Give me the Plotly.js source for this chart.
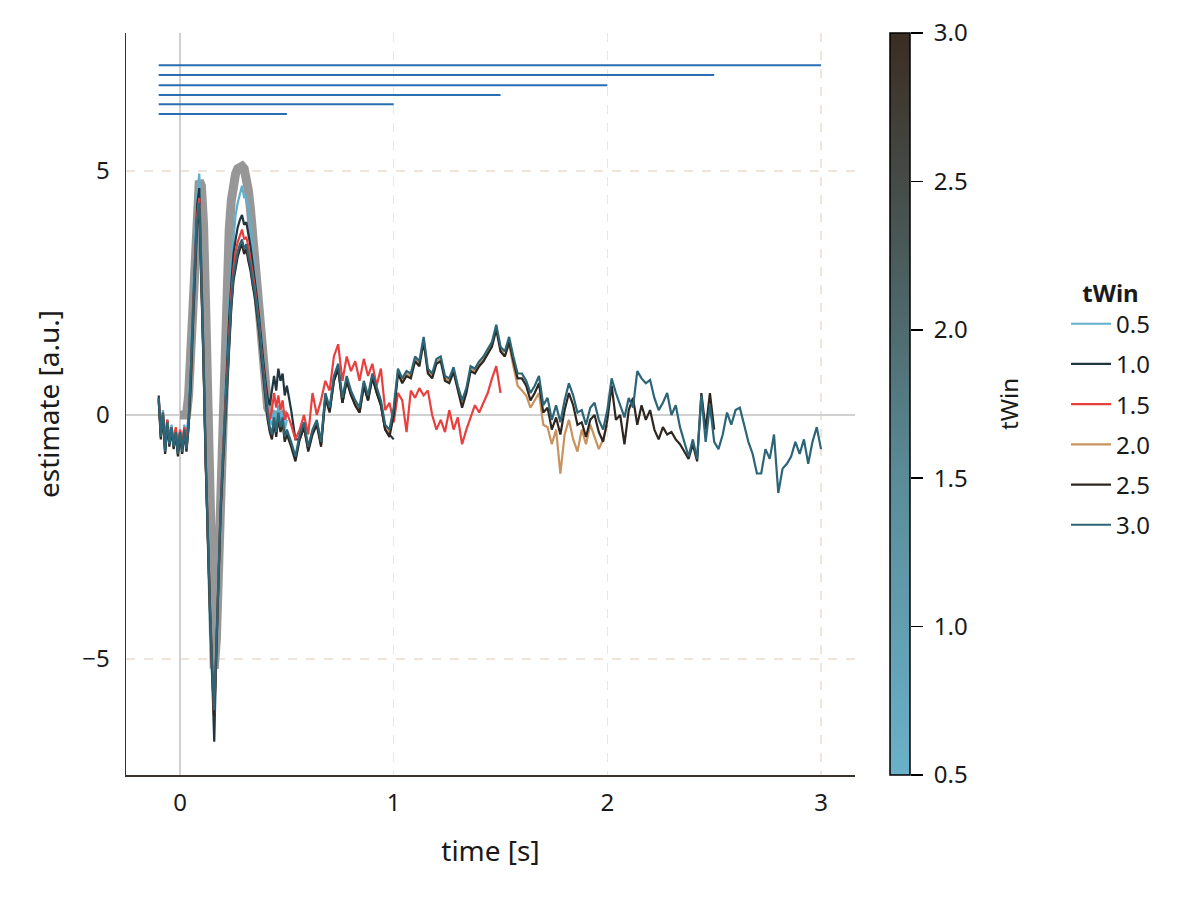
<!DOCTYPE html>
<html>
<head>
<meta charset="utf-8">
<script src="https://cdn.plot.ly/plotly-3.0.1.min.js"></script>
<style>
  body { margin: 0; background: #fff; }
  #plotId { width: 1200px; height: 900px; }
</style>
</head>
<body>
<div id="plotId"></div>
<script>
// window lengths (s) of the six estimates
const tWin = [0.5, 1.0, 1.5, 2.0, 2.5, 3.0];
const lineColors = ['#5fafcd', '#1f3640', '#e8403e', '#c8935f', '#2e2620', '#2b6577'];

// height of the horizontal bars that mark each window at the top
const windowLevel = [6.17, 6.37, 6.56, 6.76, 6.97, 7.17];

// ground truth, from 0.00 to 0.50 every 0.01 s
const truth = [
    0, 0, 0, 0.0, 0.4, 1.3, 2.5, 3.6, 4.4, 4.8,
    4.7, 3.9, 2.2, -0.2, -2.8, -4.6, -5.2, -4.6, -3.2, -1.5,
    0.2, 1.7, 2.9, 3.8, 4.4, 4.75, 4.95, 5.05, 5.1, 5.1,
    5.05, 4.9, 4.6, 4.2, 3.7, 3.1, 2.4, 1.8, 1.2, 0.7,
    0.35, 0.15, 0.05, 0, 0, 0, 0, 0, 0, 0,
    0
];

// estimates: -0.10 .. 0.50 every 0.01 s, then every 0.02 s
const est05 = [
    0.3, -0.4, 0.1, -0.7, -0.1, -0.55, -0.2, -0.6, -0.3, -0.7,
    -0.3, -0.65, -0.2, -0.4, 0.0, 1.0, 2.3, 3.5, 4.5, 4.95,
    3.3, 1.3, -0.9, -2.8, -4.2, -5.4, -6.0, -4.9, -3.2, -1.9,
    -0.8, 0.3, 1.4, 2.3, 3.1, 3.7, 4.1, 4.35, 4.5, 4.7,
    4.45, 4.5, 4.2, 3.9, 3.4, 3.0, 2.5, 2.0, 1.5, 1.0,
    0.6, 0.2, -0.1, -0.2, 0.1, -0.2, 0.2, -0.1, 0.1, -0.3,
    -0.1
];

const est10 = [
    0.4, -0.4, 0.0, -0.7, -0.1, -0.55, -0.3, -0.6, -0.3, -0.75,
    -0.35, -0.7, -0.3, -0.6, -0.1, 0.8, 2.1, 3.3, 4.3, 4.65,
    3.1, 1.2, -0.9, -2.7, -4.0, -5.3, -6.7, -4.8, -3.1, -1.9,
    -0.9, 0.1, 1.1, 2.0, 2.7, 3.3, 3.6, 3.85, 4.0, 4.1,
    3.9, 3.95, 3.7, 3.45, 3.1, 2.8, 2.4, 2.0, 1.5, 1.1,
    0.7, 0.35, 0.2, 0.55, 0.8, 0.5, 0.95, 0.7, 0.85, 0.4,
    0.6,
    0.1, -0.5, -0.5, -0.25, -0.7, -0.35, -0.15, -0.6, 0.35, 0.1,
    0.7, 0.95, 0.25, 0.7, 0.45, 0.2, 0.05, 0.6, 0.3, 0.8,
    0.45, 0.2, -0.3, -0.4, -0.5
];

const est15 = [
    0.35, -0.35, 0.05, -0.65, -0.1, -0.5, -0.25, -0.55, -0.25, -0.7,
    -0.3, -0.6, -0.25, -0.55, -0.15, 0.7, 2.0, 3.1, 4.1, 4.45,
    3.0, 1.1, -0.9, -2.6, -3.9, -5.2, -6.2, -4.7, -3.1, -1.9,
    -0.9, 0.0, 1.0, 1.8, 2.5, 3.0, 3.35, 3.55, 3.7, 3.8,
    3.6, 3.65, 3.45, 3.2, 2.9, 2.6, 2.25, 1.85, 1.35, 0.95,
    0.5, 0.1, -0.1, 0.1, 0.45, 0.15, 0.4, 0.1, 0.3, -0.1,
    0.05,
    -0.2, -0.5, -0.3, 0.0, -0.4, 0.45, 0.0, 0.3, 0.7, 0.5,
    1.2, 1.45, 0.7, 1.2, 0.9, 1.1, 0.7, 1.15, 0.8, 1.05,
    0.6, 0.95, 0.1, 0.25, -0.15, 0.45, 0.3, -0.35, 0.5, 0.35,
    0.55, 0.4, 0.5, 0.0, -0.3, -0.1, -0.35, 0.1, -0.3, -0.05,
    -0.6, -0.3, -0.05, 0.2, 0.05, 0.25, 0.45, 0.75, 1.0, 0.45
];

const est20 = [
    0.33, -0.47, 0.03, -0.77, -0.17, -0.62, -0.27, -0.67, -0.37, -0.82,
    -0.37, -0.77, -0.32, -0.72, -0.22, 0.65, 1.85, 2.95, 3.95, 4.3,
    2.85, 1.05, -0.95, -2.65, -3.95, -5.15, -6.1, -4.75, -3.15, -1.95,
    -1.05, -0.2, 0.75, 1.55, 2.25, 2.8, 3.1, 3.3, 3.45, 3.55,
    3.35, 3.45, 3.2, 3.0, 2.7, 2.45, 2.1, 1.75, 1.25, 0.85,
    0.4, -0.05, -0.3, -0.45, -0.1, -0.4, 0.0, -0.3, -0.1, -0.5,
    -0.35,
    -0.6, -0.9, -0.45, -0.2, -0.7, -0.35, -0.15, -0.6, 0.4, 0.1,
    0.75, 1.0, 0.3, 0.75, 0.45, 0.25, 0.1, 0.65, 0.35, 0.8,
    0.5, 0.25, -0.25, -0.35, 0.1, 0.9, 0.7, 0.85, 0.8, 1.15,
    1.05, 1.55, 0.9, 0.8, 1.1, 1.15, 0.75, 0.7, 0.93, 0.55,
    0.25, 0.5, 0.95, 0.9, 1.05, 1.15, 1.3, 1.45, 1.8, 1.35,
    1.2, 1.45, 1.0, 0.6, 0.5, 0.4, 0.15, 0.3, 0.45, -0.2,
    -0.25, -0.6, -0.3, -1.2, -0.4, -0.1, -0.5, -0.75, -0.3, -0.6,
    -0.2, -0.45, -0.7, -0.5, -0.2
];

const est25 = [
    0.3, -0.5, 0.0, -0.8, -0.2, -0.65, -0.3, -0.7, -0.4, -0.85,
    -0.4, -0.8, -0.35, -0.75, -0.25, 0.6, 1.8, 2.9, 3.9, 4.25,
    2.8, 1.0, -1.0, -2.7, -4.0, -5.2, -6.2, -4.8, -3.2, -2.0,
    -1.1, -0.25, 0.7, 1.5, 2.2, 2.75, 3.05, 3.25, 3.4, 3.5,
    3.3, 3.4, 3.15, 2.95, 2.65, 2.4, 2.05, 1.7, 1.2, 0.8,
    0.35, -0.1, -0.35, -0.5, -0.15, -0.45, -0.05, -0.35, -0.15, -0.55,
    -0.4,
    -0.65, -0.95, -0.5, -0.25, -0.75, -0.4, -0.2, -0.65, 0.35, 0.05,
    0.7, 0.95, 0.25, 0.7, 0.4, 0.2, 0.05, 0.6, 0.3, 0.75,
    0.45, 0.2, -0.3, -0.45, 0.0, 0.85, 0.65, 0.8, 0.75, 1.1,
    1.0, 1.5, 0.85, 0.75, 1.05, 1.1, 0.7, 0.65, 0.88, 0.5,
    0.15, 0.45, 0.9, 0.85, 1.0, 1.1, 1.25, 1.4, 1.75, 1.3,
    1.2, 1.5, 1.1, 0.75, 0.75, 0.6, 0.3, 0.45, 0.65, 0.05,
    0.15, -0.3, -0.05, -0.4, 0.1, 0.45, 0.2, -0.2, -0.15, -0.45,
    -0.1, 0.0, -0.35, -0.55, -0.1, 0.6, -0.1, 0.0, -0.6, 0.1,
    0.35, -0.2, 0.2, -0.1, 0.1, -0.3, -0.5, -0.25, -0.4, -0.35,
    -0.5, -0.6, -0.75, -0.9, -0.6, -0.95, 0.45, -0.3, 0.45, -0.3
];

const est30 = [
    0.35, -0.45, 0.05, -0.75, -0.15, -0.6, -0.25, -0.65, -0.35, -0.8,
    -0.35, -0.75, -0.3, -0.7, -0.2, 0.7, 1.9, 3.0, 4.0, 4.35,
    2.9, 1.1, -0.9, -2.6, -3.9, -5.1, -6.05, -4.7, -3.1, -1.9,
    -1.0, -0.15, 0.8, 1.6, 2.3, 2.85, 3.15, 3.35, 3.5, 3.6,
    3.4, 3.5, 3.25, 3.05, 2.75, 2.5, 2.15, 1.8, 1.3, 0.9,
    0.45, 0.0, -0.25, -0.4, -0.05, -0.35, 0.05, -0.25, -0.05, -0.45,
    -0.3,
    -0.55, -0.85, -0.4, -0.15, -0.65, -0.3, -0.1, -0.55, 0.45, 0.15,
    0.8, 1.05, 0.35, 0.8, 0.5, 0.3, 0.15, 0.7, 0.4, 0.85,
    0.55, 0.3, -0.2, -0.3, 0.15, 0.95, 0.75, 0.9, 0.85, 1.2,
    1.1, 1.6, 0.95, 0.85, 1.15, 1.2, 0.8, 0.75, 0.98, 0.6,
    0.3, 0.55, 1.0, 0.95, 1.1, 1.2, 1.35, 1.5, 1.85, 1.4,
    1.3, 1.6, 1.2, 0.85, 0.85, 0.7, 0.45, 0.6, 0.8, 0.2,
    0.35, -0.1, 0.2, -0.15, 0.3, 0.65, 0.4, 0.05, 0.1, -0.2,
    0.15, 0.25, -0.1, -0.3, 0.1, 0.75, 0.45, 0.2, -0.05, 0.35,
    0.15, 0.9, 0.75, 0.65, 0.72, 0.35, 0.1, 0.25, 0.45, 0.0,
    0.2, -0.25, -0.55, -0.85, -0.5, -0.9, 0.4, -0.55, 0.2, -0.55,
    -0.7, -0.4, 0.05, -0.2, 0.1, 0.15, -0.2, -0.55, -0.8, -1.2,
    -1.2, -0.7, -0.9, -0.4, -1.6, -1.1, -1.0, -0.85, -0.55, -0.8,
    -0.5, -1.0, -0.55, -0.25, -0.7
];

const estimates = [est05, est10, est15, est20, est25, est30];

// sample times: fine grid up to 0.5 s, coarser after that
const sampleTimes = n => Array.from({ length: n }, (_, i) =>
    +(i <= 60 ? -0.1 + i * 0.01 : 0.5 + (i - 60) * 0.02).toFixed(2));

const font = 'Noto Sans, Open Sans, sans-serif';
const ink = '#1a1a1a';
const tickSize = 24;
const titleSize = 28;

// pixel layout: main axes 126..855, colorbar 890..910
const plotLeft = 126, plotRight = 855, cbLeft = 890, cbRight = 910;
const areaWidth = cbRight - plotLeft;
const px = p => (p - plotLeft) / areaWidth;

const traces = [];

// ground truth, thick gray underneath (starts at stimulus onset)
traces.push({
    x: sampleTimes(truth.length + 10).slice(10),
    y: truth,
    type: 'scatter',
    mode: 'lines',
    line: { color: 'rgba(140,140,140,0.9)', width: 9 },
    showlegend: false,
    hoverinfo: 'skip'
});

estimates.forEach((est, i) => {
    traces.push({
        x: sampleTimes(est.length),
        y: est,
        type: 'scatter',
        mode: 'lines',
        name: tWin[i].toFixed(1),
        legendgroup: 'g' + i,
        line: { color: lineColors[i], width: 2.2 }
    });
});

// window bars
tWin.forEach((w, i) => {
    traces.push({
        x: [-0.1, w],
        y: [windowLevel[i], windowLevel[i]],
        type: 'scatter',
        mode: 'lines',
        line: { color: '#2a6db2', width: 2 },
        showlegend: false,
        hoverinfo: 'skip'
    });
});

// colour scale of tWin; the markers sit outside the range, only the bar shows
traces.push({
    x: [-10, -10],
    y: [-10, -10],
    xaxis: 'x2',
    yaxis: 'y2',
    type: 'scatter',
    mode: 'markers',
    showlegend: false,
    hoverinfo: 'skip',
    marker: {
        color: [tWin[0], tWin[tWin.length - 1]],
        cmin: tWin[0],
        cmax: tWin[tWin.length - 1],
        colorscale: [
            [0, '#6ab1c9'],
            [0.4, '#5a8c98'],
            [0.6, '#4f6b6e'],
            [0.8, '#454b47'],
            [1, '#3a2d22']
        ],
        showscale: true,
        colorbar: {
            x: px(cbLeft),
            xanchor: 'left',
            y: 0.5,
            yanchor: 'middle',
            len: 1,
            lenmode: 'fraction',
            thickness: cbRight - cbLeft,
            thicknessmode: 'pixels',
            outlinewidth: 1.5,
            outlinecolor: '#000',
            ticks: '',
            showticklabels: false,
            title: { text: '' },
            xpad: 0,
            ypad: 0
        }
    }
});

const layout = {
    width: 1200,
    height: 900,
    paper_bgcolor: '#fff',
    plot_bgcolor: '#fff',
    margin: { l: plotLeft, r: 1200 - cbRight, t: 33, b: 125 },
    font: { family: font, size: tickSize, color: ink },
    showlegend: true,
    legend: {
        x: px(1066),
        xanchor: 'left',
        y: 0.68,
        yanchor: 'top',
        font: { family: font, size: tickSize, color: ink },
        title: { text: '<b>tWin</b>', side: 'top center', font: { family: font, size: tickSize, color: ink } },
        tracegroupgap: 6,
        itemwidth: 40,
        bgcolor: 'rgba(0,0,0,0)'
    },
    xaxis: {
        domain: [0, px(plotRight)],
        range: [-0.253, 3.159],
        tickvals: [0, 1, 2, 3],
        ticks: '',
        ticklabelstandoff: 6,
        showgrid: true,
        gridcolor: '#efe5da',
        griddash: 'dash',
        gridwidth: 1.5,
        zeroline: true,
        zerolinecolor: '#d0d0d0',
        zerolinewidth: 2,
        showline: true,
        linecolor: '#3d3229',
        linewidth: 1.5,
        tickfont: { family: font, size: tickSize, color: ink },
        title: { text: 'time [s]', standoff: 24, font: { family: font, size: titleSize, color: ink } }
    },
    yaxis: {
        range: [-7.38, 7.83],
        tickvals: [-5, 0, 5],
        ticks: '',
        ticklabelstandoff: 10,
        showgrid: true,
        gridcolor: '#efe5da',
        griddash: 'dash',
        gridwidth: 1.5,
        zeroline: true,
        zerolinecolor: '#d0d0d0',
        zerolinewidth: 2,
        showline: true,
        linecolor: '#3d3229',
        linewidth: 1.5,
        tickfont: { family: font, size: tickSize, color: ink },
        title: { text: 'estimate [a.u.]', standoff: 14, font: { family: font, size: titleSize, color: ink } }
    },
    // axis that carries the colorbar ticks and title
    xaxis2: {
        domain: [px(cbLeft), 1],
        range: [0, 1],
        visible: false,
        fixedrange: true
    },
    yaxis2: {
        anchor: 'x2',
        side: 'right',
        range: [tWin[0], tWin[tWin.length - 1]],
        tickvals: tWin,
        tickformat: '.1f',
        ticks: 'outside',
        ticklen: 12,
        tickwidth: 1.5,
        tickcolor: '#000',
        ticklabelstandoff: 6,
        showgrid: false,
        zeroline: false,
        showline: false,
        tickfont: { family: font, size: tickSize, color: ink },
        title: { text: 'tWin', standoff: 34, font: { family: font, size: tickSize, color: ink } }
    }
};

Plotly.newPlot('plotId', traces, layout, { displayModeBar: false, staticPlot: true });
</script>
</body>
</html>
